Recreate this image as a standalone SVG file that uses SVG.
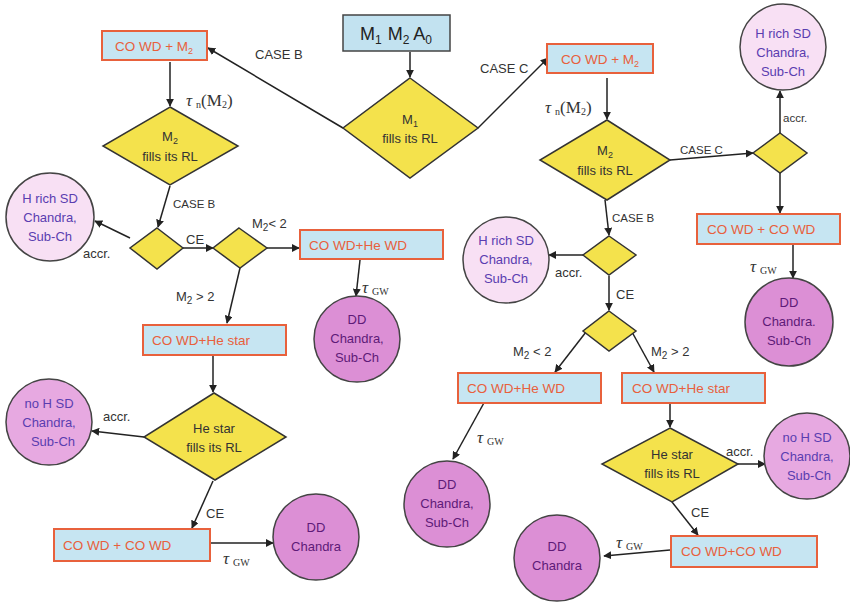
<svg xmlns="http://www.w3.org/2000/svg" width="850" height="604" viewBox="0 0 850 604">
  <defs>
    <marker id="arr" viewBox="0 0 10 10" refX="9" refY="5" markerWidth="8" markerHeight="8" markerUnits="userSpaceOnUse" orient="auto">
      <path d="M0,0 L10,5 L0,10 z" fill="#222"/>
    </marker>
    <style>
      .box { fill: #c6e5f2; stroke: #e8613c; stroke-width: 2; }
      .start { fill: #c2e2f0; stroke: #444; stroke-width: 1.5; }
      .dia { fill: #f4e24c; stroke: #333; stroke-width: 1.5; }
      .cl { fill: #f8e0f4; stroke: #444; stroke-width: 1.5; }
      .cm { fill: #e7a9e1; stroke: #444; stroke-width: 1.5; }
      .cd { fill: #dc8fd5; stroke: #444; stroke-width: 1.5; }
      .bt { font-family: "Liberation Sans", Arial, sans-serif; font-size: 13.5px; fill: #e8603c; }
      .dt { font-family: "Liberation Sans", Arial, sans-serif; font-size: 13px; fill: #333; text-anchor: middle; }
      .ct { font-family: "Liberation Sans", Arial, sans-serif; font-size: 13px; fill: #5a3db0; text-anchor: middle; }
      .cdt { font-family: "Liberation Sans", Arial, sans-serif; font-size: 13px; fill: #5e1a78; text-anchor: middle; }
      .lb { font-family: "Liberation Sans", Arial, sans-serif; font-size: 13px; fill: #333; }
      .lbs { font-family: "Liberation Sans", Arial, sans-serif; font-size: 11.5px; fill: #333; }
      .tau { font-family: "Liberation Serif", "Times New Roman", serif; font-size: 17px; fill: #333; }
      .ln { stroke: #222; stroke-width: 1.5; fill: none; marker-end: url(#arr); }
    </style>
  </defs>

  <rect width="850" height="604" fill="#ffffff"/>

  <!-- connectors -->
  <g id="connectors">
    <line class="ln" x1="410" y1="52" x2="410" y2="77"/>
    <line class="ln" x1="343" y1="128" x2="208" y2="48"/>
    <line class="ln" x1="478" y1="128" x2="548" y2="58"/>
    <line class="ln" x1="170" y1="62" x2="170" y2="106"/>
    <line class="ln" x1="607" y1="78" x2="607" y2="119"/>
    <line class="ln" x1="670" y1="160" x2="753" y2="153"/>
    <line class="ln" x1="780" y1="133" x2="780" y2="91"/>
    <line class="ln" x1="780" y1="173" x2="780" y2="213"/>
    <line class="ln" x1="793" y1="244" x2="793" y2="278"/>
    <!-- left branch -->
    <line class="ln" x1="170" y1="186" x2="158" y2="227"/>
    <line class="ln" x1="130" y1="238" x2="95" y2="221"/>
    <line class="ln" x1="183" y1="248" x2="213" y2="248"/>
    <line class="ln" x1="267" y1="248" x2="299" y2="248"/>
    <line class="ln" x1="240" y1="268" x2="227" y2="323"/>
    <line class="ln" x1="360" y1="260" x2="356" y2="296"/>
    <line class="ln" x1="213" y1="356" x2="213" y2="392"/>
    <line class="ln" x1="144" y1="437" x2="92" y2="431"/>
    <line class="ln" x1="213" y1="481" x2="192" y2="528"/>
    <line class="ln" x1="205" y1="543" x2="273" y2="543"/>
    <!-- right branch -->
    <line class="ln" x1="605" y1="200" x2="609" y2="235"/>
    <line class="ln" x1="583" y1="255" x2="549" y2="255"/>
    <line class="ln" x1="609" y1="276" x2="609" y2="310"/>
    <line class="ln" x1="586" y1="332" x2="555" y2="372"/>
    <line class="ln" x1="632" y1="332" x2="654" y2="372"/>
    <line class="ln" x1="485" y1="401" x2="453" y2="459"/>
    <line class="ln" x1="670" y1="403" x2="670" y2="427"/>
    <line class="ln" x1="738" y1="464" x2="765" y2="464"/>
    <line class="ln" x1="672" y1="502" x2="698" y2="535"/>
    <line class="ln" x1="670" y1="550" x2="604" y2="556"/>

    <!-- connector labels -->
    <text class="lb" x="255" y="59">CASE B</text>
    <text class="lb" x="480" y="73">CASE C</text>
    <text class="tau" x="186" y="106"><tspan font-style="italic">τ</tspan><tspan font-size="10" dx="4" dy="2">n</tspan><tspan dy="-2">(M</tspan><tspan font-size="10" dy="2">2</tspan><tspan dy="-2">)</tspan></text>
    <text class="tau" x="545" y="113"><tspan font-style="italic">τ</tspan><tspan font-size="10" dx="4" dy="2">n</tspan><tspan dy="-2">(M</tspan><tspan font-size="10" dy="2">2</tspan><tspan dy="-2">)</tspan></text>
    <text class="lbs" x="680" y="154">CASE C</text>
    <text class="lbs" x="783" y="122">accr.</text>
    <text class="tau" x="750" y="272"><tspan font-style="italic">τ</tspan><tspan font-size="10" dx="4" dy="2">GW</tspan></text>
    <text class="lbs" x="173" y="208">CASE B</text>
    <text class="lb" x="83" y="258">accr.</text>
    <text class="lb" x="186" y="244">CE</text>
    <text class="lb" x="252" y="228">M<tspan font-size="10" dy="3">2</tspan><tspan dy="-3">&lt; 2</tspan></text>
    <text class="lb" x="176" y="301">M<tspan font-size="10" dy="3">2</tspan><tspan dy="-3"> &gt; 2</tspan></text>
    <text class="tau" x="362" y="293"><tspan font-style="italic">τ</tspan><tspan font-size="10" dx="4" dy="2">GW</tspan></text>
    <text class="lb" x="103" y="421">accr.</text>
    <text class="lb" x="206" y="518">CE</text>
    <text class="tau" x="223" y="564"><tspan font-style="italic">τ</tspan><tspan font-size="10" dx="4" dy="2">GW</tspan></text>
    <text class="lbs" x="612" y="222">CASE B</text>
    <text class="lb" x="555" y="277">accr.</text>
    <text class="lb" x="616" y="299">CE</text>
    <text class="lb" x="513" y="356">M<tspan font-size="10" dy="3">2</tspan><tspan dy="-3"> &lt; 2</tspan></text>
    <text class="lb" x="651" y="356">M<tspan font-size="10" dy="3">2</tspan><tspan dy="-3"> &gt; 2</tspan></text>
    <text class="tau" x="477" y="443"><tspan font-style="italic">τ</tspan><tspan font-size="10" dx="4" dy="2">GW</tspan></text>
    <text class="lb" x="726" y="456">accr.</text>
    <text class="lb" x="691" y="517">CE</text>
    <text class="tau" x="616" y="548"><tspan font-style="italic">τ</tspan><tspan font-size="10" dx="4" dy="2">GW</tspan></text>
  </g>

  <!-- start node -->
  <g id="start">
    <rect class="start" x="343" y="15" width="107" height="36"/>
    <text x="396" y="40" font-family="Liberation Sans, Arial, sans-serif" font-size="18" fill="#222" text-anchor="middle">M<tspan font-size="12" dy="4">1</tspan><tspan dx="6" dy="-4">M</tspan><tspan font-size="12" dy="4">2</tspan><tspan dx="4" dy="-4">A</tspan><tspan font-size="12" dy="4">0</tspan></text>
  </g>

  <g id="m1-fills">
    <polygon class="dia" points="410,78 478,128 410,178 343,128"/>
    <text class="dt" x="410" y="124">M<tspan font-size="9" dy="3">1</tspan></text>
    <text class="dt" x="410" y="143">fills its RL</text>
  </g>

  <!-- case B column -->
  <g id="box-b">
    <rect class="box" x="102" y="31" width="105" height="29"/>
    <text class="bt" x="154" y="51" text-anchor="middle">CO WD + M<tspan font-size="9" dy="3">2</tspan></text>
  </g>
  <g id="m2-fills-b">
    <polygon class="dia" points="170,107 238,146 170,185 103,146"/>
    <text class="dt" x="170" y="141">M<tspan font-size="9" dy="3">2</tspan></text>
    <text class="dt" x="170" y="161">fills its RL</text>
  </g>
  <g id="dec-b1">
    <polygon class="dia" points="157,228 183,248 157,269 130,248"/>
  </g>
  <g id="hsd-b">
    <circle class="cl" cx="50" cy="217" r="44"/>
    <text class="ct" x="50" y="203">H rich SD</text>
    <text class="ct" x="50" y="222">Chandra,</text>
    <text class="ct" x="50" y="241">Sub-Ch</text>
  </g>
  <g id="dec-b2">
    <polygon class="dia" points="239,228 267,248 240,268 213,248"/>
  </g>
  <g id="hewd-b">
    <rect class="box" x="300" y="230" width="143" height="29"/>
    <text class="bt" x="309" y="250">CO WD+He WD</text>
  </g>
  <g id="dd-b1">
    <circle class="cd" cx="357" cy="339" r="43"/>
    <text class="cdt" x="357" y="324">DD</text>
    <text class="cdt" x="357" y="343">Chandra,</text>
    <text class="cdt" x="357" y="362">Sub-Ch</text>
  </g>
  <g id="hestar-b">
    <rect class="box" x="143" y="325" width="143" height="30"/>
    <text class="bt" x="152" y="345">CO WD+He star</text>
  </g>
  <g id="he-fills-b">
    <polygon class="dia" points="214,393 286,437 215,480 144,437"/>
    <text class="dt" x="214" y="433">He star</text>
    <text class="dt" x="214" y="452">fills its RL</text>
  </g>
  <g id="nohsd-b">
    <circle class="cm" cx="49" cy="422" r="43"/>
    <text class="ct" x="49" y="408">no H SD</text>
    <text class="ct" x="49" y="427">Chandra,</text>
    <text class="ct" x="53" y="446">Sub-Ch</text>
  </g>
  <g id="cocowd-b">
    <rect class="box" x="54" y="529" width="156" height="32"/>
    <text class="bt" x="63" y="550">CO WD + CO WD</text>
  </g>
  <g id="dd-b2">
    <circle class="cd" cx="316" cy="537" r="43"/>
    <text class="cdt" x="316" y="532">DD</text>
    <text class="cdt" x="316" y="551">Chandra</text>
  </g>

  <!-- case C column -->
  <g id="box-c">
    <rect class="box" x="547" y="44" width="106" height="29"/>
    <text class="bt" x="600" y="64" text-anchor="middle">CO WD + M<tspan font-size="9" dy="3">2</tspan></text>
  </g>
  <g id="m2-fills-c">
    <polygon class="dia" points="607,120 670,160 607,200 540,160"/>
    <text class="dt" x="605" y="155">M<tspan font-size="9" dy="3">2</tspan></text>
    <text class="dt" x="605" y="175">fills its RL</text>
  </g>
  <g id="dec-c1">
    <polygon class="dia" points="780,133 807,153 780,173 753,153"/>
  </g>
  <g id="hsd-c1">
    <circle class="cl" cx="783" cy="47" r="43"/>
    <text class="ct" x="783" y="38">H rich SD</text>
    <text class="ct" x="783" y="57">Chandra,</text>
    <text class="ct" x="783" y="76">Sub-Ch</text>
  </g>
  <g id="cocowd-c1">
    <rect class="box" x="697" y="214" width="143" height="30"/>
    <text class="bt" x="707" y="234">CO WD + CO WD</text>
  </g>
  <g id="dd-c1">
    <circle class="cd" cx="789" cy="322" r="44"/>
    <text class="cdt" x="789" y="307">DD</text>
    <text class="cdt" x="789" y="326">Chandra.</text>
    <text class="cdt" x="789" y="345">Sub-Ch</text>
  </g>
  <g id="dec-c2">
    <polygon class="dia" points="609,236 636,255 609,275 583,255"/>
  </g>
  <g id="hsd-c2">
    <circle class="cl" cx="506" cy="260" r="43"/>
    <text class="ct" x="506" y="245">H rich SD</text>
    <text class="ct" x="506" y="264">Chandra,</text>
    <text class="ct" x="506" y="283">Sub-Ch</text>
  </g>
  <g id="dec-c3">
    <polygon class="dia" points="609,311 636,331 609,351 583,331"/>
  </g>
  <g id="hewd-c">
    <rect class="box" x="458" y="373" width="143" height="30"/>
    <text class="bt" x="467" y="393">CO WD+He WD</text>
  </g>
  <g id="dd-c2">
    <circle class="cd" cx="447" cy="504" r="43"/>
    <text class="cdt" x="447" y="489">DD</text>
    <text class="cdt" x="447" y="508">Chandra,</text>
    <text class="cdt" x="447" y="527">Sub-Ch</text>
  </g>
  <g id="hestar-c">
    <rect class="box" x="622" y="373" width="143" height="30"/>
    <text class="bt" x="632" y="393">CO WD+He star</text>
  </g>
  <g id="he-fills-c">
    <polygon class="dia" points="670,428 738,464 672,502 602,464"/>
    <text class="dt" x="672" y="459">He star</text>
    <text class="dt" x="672" y="478">fills its RL</text>
  </g>
  <g id="nohsd-c">
    <circle class="cm" cx="807" cy="456" r="43"/>
    <text class="ct" x="807" y="442">no H SD</text>
    <text class="ct" x="807" y="461">Chandra,</text>
    <text class="ct" x="809" y="480">Sub-Ch</text>
  </g>
  <g id="cocowd-c2">
    <rect class="box" x="671" y="536" width="146" height="31"/>
    <text class="bt" x="681" y="556">CO WD+CO WD</text>
  </g>
  <g id="dd-c3">
    <circle class="cd" cx="557" cy="558" r="43"/>
    <text class="cdt" x="557" y="551">DD</text>
    <text class="cdt" x="557" y="570">Chandra</text>
  </g>
</svg>
